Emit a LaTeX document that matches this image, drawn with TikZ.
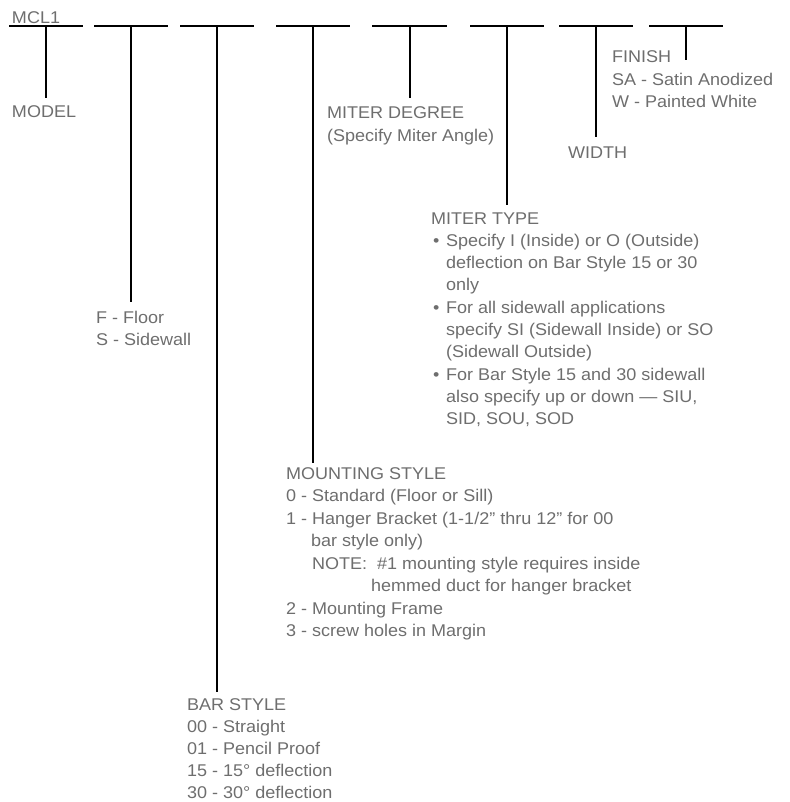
\documentclass[tikz,border=0pt]{standalone}
\usepackage{fontspec}
\setmainfont{Liberation Sans}[FakeStretch=1.06]
\definecolor{txt}{HTML}{6E6E6E}
\begin{document}
\begin{tikzpicture}[x=1pt,y=-1pt,
  seg/.style={line width=2pt,black},
  lbl/.style={anchor=north west,inner sep=0pt,outer sep=0pt,align=left,text=txt,
    font=\fontsize{17}{22.3}\selectfont},
  lblb/.style={lbl,font=\fontsize{17}{22.5}\selectfont},
]
\useasboundingbox (0,0) rectangle (789,802);
% horizontal segments
\foreach \i/\a/\b in {1/9/83,2/94/168,3/180/254,4/276/350,5/372/447,6/470/544,7/559/633,8/649/723}{
  \coordinate (h\i a) at (\a,26);
  \coordinate (h\i b) at (\b,26);
  \coordinate (t\i) at ({(\a+\b)/2},26);
  \draw[seg] (h\i a) -- (h\i b);
}
% bottom ends of the stems
\coordinate (e1) at (46,98);
\coordinate (e2) at (131,302);
\coordinate (e3) at (217,692);
\coordinate (e4) at (313,463);
\coordinate (e5) at (409.5,98);
\coordinate (e6) at (507,205);
\coordinate (e7) at (596,137);
\coordinate (e8) at (686,60);
\foreach \i in {1,...,8}{ \draw[seg] (t\i) -- (t\i |- e\i); }

\node[lbl] (mcl) at (12,{24-15.61}) {\strut MCL1};
\node[lbl] (model) at (12,{118-15.61}) {\strut MODEL};
\node[lbl] (floor) at (96,{323-15.61}) {\strut F - Floor\\S - Sidewall};
\node[lbl] (deg) at (327,{119-15.61}) {\strut MITER DEGREE\\(Specify Miter Angle)};
\node[lbl] (width) at (568,{159-15.61}) {\strut WIDTH};
\node[lbl] (finish) at (612,{63-15.61}) {\strut FINISH\\SA - Satin Anodized\\W - Painted White};
\node[lbl] (mtype) at (431,{224-15.61}) {\strut MITER TYPE\\
\makebox[15pt][l]{\hspace{2pt}•}Specify I (Inside) or O (Outside)\\
\hspace*{15pt}deflection on Bar Style 15 or 30\\
\hspace*{15pt}only\\
\makebox[15pt][l]{\hspace{2pt}•}For all sidewall applications\\
\hspace*{15pt}specify SI (Sidewall Inside) or SO\\
\hspace*{15pt}(Sidewall Outside)\\
\makebox[15pt][l]{\hspace{2pt}•}For Bar Style 15 and 30 sidewall\\
\hspace*{15pt}also specify up or down — SIU,\\
\hspace*{15pt}SID, SOU, SOD};
\node[lblb] (mount) at (286,{479-15.75}) {\strut MOUNTING STYLE\\
0 - Standard (Floor or Sill)\\
1 - Hanger Bracket (1-1/2” thru 12” for 00\\
\hspace*{25pt}bar style only)\\
\hspace*{26pt}NOTE:\ \ \#1 mounting style requires inside\\
\hspace*{85pt}hemmed duct for hanger bracket\\
2 - Mounting Frame\\
3 - screw holes in Margin};
\node[lbl,font=\fontsize{17}{22}\selectfont] (bar) at (187,{710-15.4}) {\strut BAR STYLE\\
00 - Straight\\
01 - Pencil Proof\\
15 - 15° deflection\\
30 - 30° deflection};
\end{tikzpicture}
\end{document}
